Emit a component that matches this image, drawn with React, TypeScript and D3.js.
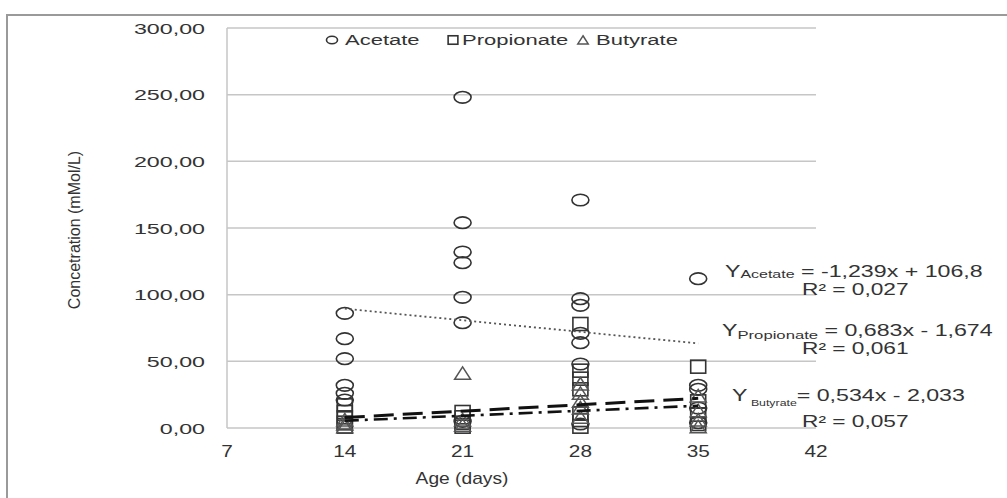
import React, { useEffect, useRef } from "react";
import * as d3 from "d3";

const ageTicks = [7, 14, 21, 28, 35, 42];
const concTicks = [0, 50, 100, 150, 200, 250, 300];
const sampleDays = [14, 21, 28, 35];

// values per sampling day (14, 21, 28, 35)
const acetate = [
  [86, 67, 52, 32, 26, 21],
  [248, 154, 132, 124, 98, 79, 5],
  [171, 97, 92, 71, 64, 48, 3],
  [112, 32, 29, 15, 4],
];
const propionate = [
  [17, 12, 8, 4, 1],
  [12, 8, 4, 1],
  [78, 43, 37, 29, 11, 6, 1],
  [46, 20, 10, 3],
];
const butyrate = [
  [6, 3, 1],
  [41, 6, 2],
  [33, 26, 20, 15, 8],
  [24, 13, 6, 1],
];

const seriesNames = ["Acetate", "Propionate", "Butyrate"];
const trendSlopes = [-1.239, 0.683, 0.534];
const trendIntercepts = [106.8, -1.674, -2.033];
const trendEquations = [" = -1,239x + 106,8", "  = 0,683x - 1,674", "= 0,534x - 2,033"];
const rSquared = ["R² = 0,027", "R² = 0,061", "R² = 0,057"];

function Chart() {
  const svgRef = useRef(null);

  useEffect(() => {
    const width = 1007;
    const height = 498;
    const ink = "#333";
    const font = "'Liberation Sans', Arial, sans-serif";

    const svg = d3.select(svgRef.current)
      .attr("width", width)
      .attr("height", height)
      .style("font-family", font);

    svg.selectAll("*").remove();

    const x = d3.scaleLinear().domain([7, 42]).range([227, 816]);
    const y = d3.scaleLinear().domain([0, 300]).range([428, 28]);
    const fmt = (v) => d3.format(".2f")(v).replace(".", ",");

    // outer frame
    svg.append("rect")
      .attr("x", 7).attr("y", 15)
      .attr("width", 1020).attr("height", 520)
      .attr("fill", "white")
      .attr("stroke", "#9a9a9a")
      .attr("stroke-width", 2);

    // gridlines
    svg.append("g")
      .selectAll("line")
      .data(concTicks)
      .join("line")
      .attr("x1", x(7)).attr("x2", x(42))
      .attr("y1", d => y(d)).attr("y2", d => y(d))
      .attr("stroke", "#c6c6c6")
      .attr("stroke-width", 1.5);

    svg.append("line")
      .attr("x1", x(7)).attr("x2", x(7))
      .attr("y1", y(300)).attr("y2", y(0))
      .attr("stroke", "#c6c6c6")
      .attr("stroke-width", 1.5);

    // stretched text helper (the original image is widened)
    const stretched = (str, px, py, size, sx, anchor) =>
      svg.append("text")
        .attr("transform", `translate(${px},${py}) scale(${sx},1)`)
        .attr("text-anchor", anchor)
        .attr("font-size", size)
        .attr("fill", ink)
        .text(str);

    concTicks.forEach(t => stretched(fmt(t), 205, y(t) + 5.5, 15, 1.55, "end"));
    ageTicks.forEach(t => stretched(String(t), x(t), 457, 16, 1.3, "middle"));

    stretched("Age  (days)", 462, 484, 16, 1.2, "middle");

    svg.append("text")
      .attr("transform", "translate(80,230) rotate(-90)")
      .attr("text-anchor", "middle")
      .attr("font-size", 16)
      .attr("fill", ink)
      .text("Concetration (mMol/L)");

    // marker shapes
    const drawMarker = (g, kind, cx, cy, s) => {
      if (kind === 0) {
        g.append("ellipse")
          .attr("cx", cx).attr("cy", cy)
          .attr("rx", 8.5 * s).attr("ry", 5.8 * s)
          .attr("fill", "none").attr("stroke", ink).attr("stroke-width", 1.6);
      } else if (kind === 1) {
        g.append("rect")
          .attr("x", cx - 7.5 * s).attr("y", cy - 6.5 * s)
          .attr("width", 15 * s).attr("height", 13 * s)
          .attr("fill", "none").attr("stroke", ink).attr("stroke-width", 1.6);
      } else {
        g.append("path")
          .attr("d", `M${cx},${cy - 6.5 * s}L${cx + 8 * s},${cy + 6 * s}L${cx - 8 * s},${cy + 6 * s}Z`)
          .attr("fill", "none").attr("stroke", "#555").attr("stroke-width", 1.5);
      }
    };

    const marks = svg.append("g");
    [acetate, propionate, butyrate].forEach((series, k) => {
      series.forEach((vals, i) => {
        vals.forEach(v => drawMarker(marks, k, x(sampleDays[i]), y(v), 1));
      });
    });

    // trend lines
    const trendStyles = [
      { dash: "2,3", w: 1.8, c: "#555" },
      { dash: "20,9", w: 3, c: "#111" },
      { dash: "14,6,3,6", w: 2.6, c: "#111" },
    ];
    const line = d3.line().x(d => x(d[0])).y(d => y(d[1]));
    trendSlopes.forEach((m, k) => {
      const pts = [14, 35].map(d => [d, m * d + trendIntercepts[k]]);
      svg.append("path")
        .attr("d", line(pts))
        .attr("fill", "none")
        .attr("stroke", trendStyles[k].c)
        .attr("stroke-width", trendStyles[k].w)
        .attr("stroke-dasharray", trendStyles[k].dash);
    });

    // legend
    const legendX = [332, 453, 583];
    const legendTextX = [345, 462, 596];
    seriesNames.forEach((name, k) => {
      drawMarker(svg, k, legendX[k], 40, 0.65);
      stretched(name, legendTextX[k], 45, 15.5, 1.42, "start");
    });

    // regression equations
    const eqX = [725, 722, 732];
    const eqY = [277, 336, 401];
    const subSize = [11, 11.5, 8.5];
    const subShift = [1, 3, 5];
    const rY = [295, 354, 427];
    seriesNames.forEach((name, k) => {
      const t = svg.append("text")
        .attr("transform", `translate(${eqX[k]},${eqY[k]}) scale(1.45,1)`)
        .attr("fill", ink)
        .attr("font-size", 16);
      t.append("tspan").text("Y");
      t.append("tspan")
        .attr("font-size", subSize[k])
        .attr("dy", subShift[k])
        .text(k === 2 ? " " + name : name);
      t.append("tspan")
        .attr("dy", -subShift[k])
        .text(trendEquations[k]);
      stretched(rSquared[k], 802, rY[k], 16, 1.42, "start");
    });
  }, []);

  return <svg ref={svgRef} style={{ position: "absolute", left: 0, top: 0 }}></svg>;
}

export default function App() {
  return <Chart />;
}
